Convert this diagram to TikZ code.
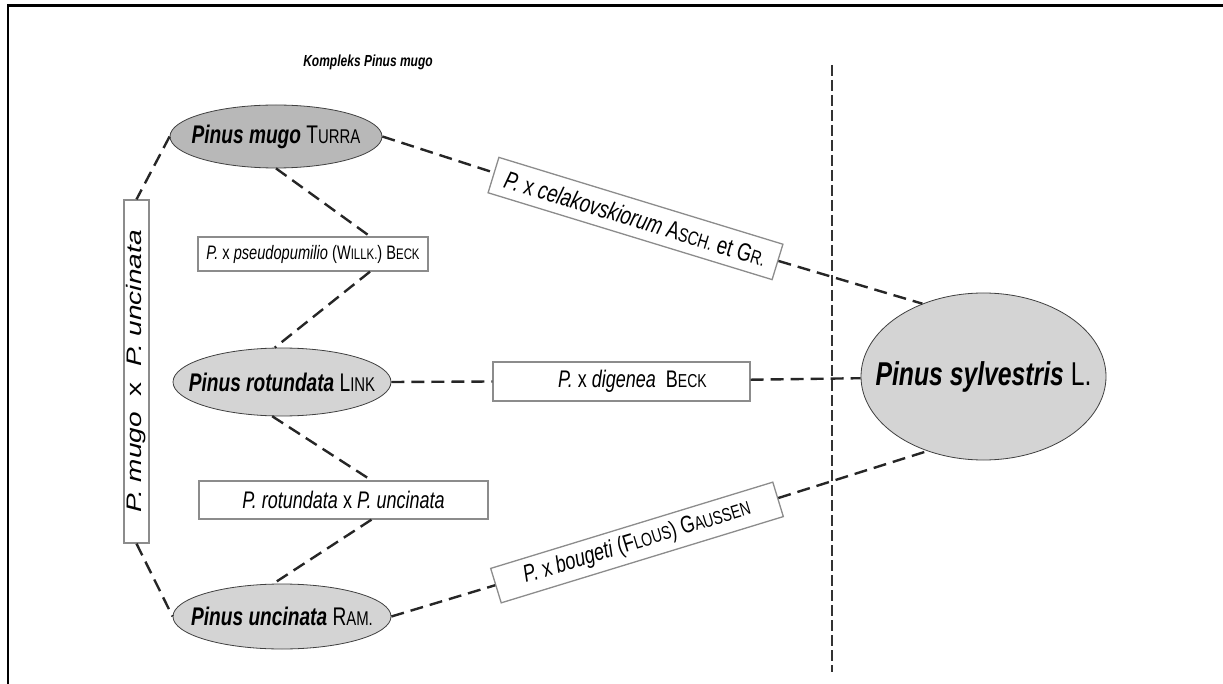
\documentclass[tikz,border=0pt]{standalone}
\usepackage{fontspec}
\setmainfont{Liberation Sans}[FakeStretch=0.75]
\newfontfamily\upfont{Liberation Sans}
\usetikzlibrary{shapes.geometric}

%% petites capitales
\newcommand{\smc}[1]{\scalebox{0.78}{#1}}
%% texte sans largeur (l'ellipse garde sa taille)
\newcommand{\nowidth}[1]{\makebox[0pt]{#1}}

\tikzset{
  taxon/.style={ellipse, draw=black!75, line width=0.8pt, inner sep=0pt,
    font=\fontsize{25.5}{28}\selectfont},
  hybrid/.style={rectangle, draw=black!45, line width=1.3pt, fill=white,
    inner sep=0pt, font=\fontsize{24}{28}\selectfont},
  link/.style={draw=black!85, line width=2.4pt, dash pattern=on 13pt off 7pt},
  sep/.style={draw=black!80, line width=1.6pt, dash pattern=on 11pt off 4pt}
}

\begin{document}
\begin{tikzpicture}[x=1pt,y=1pt]
\useasboundingbox (0,0) rectangle (1223,-684);

%% cadre
\draw[line width=2.5pt] (8,-684) -- (8,-5.5) -- (1223,-5.5);

%% titre
\node[font=\fontsize{16}{18}\selectfont\bfseries\itshape] (titre) at (368,-62) {Kompleks Pinus mugo};

%% separation
\draw[sep] (832,-65) -- (832,-672);

%% especes
\node[taxon, fill=black!28, minimum width=212pt, minimum height=63pt] (mugo) at (276,-136.5)
  {\nowidth{\textbf{\textit{Pinus mugo}} T\smc{URRA}}};
\node[taxon, fill=black!17, minimum width=218pt, minimum height=68pt] (rot) at (282,-382)
  {\nowidth{\textbf{\textit{Pinus rotundata}} L\smc{INK}}};
\node[taxon, fill=black!17, minimum width=218pt, minimum height=65pt] (unc) at (282,-616.5)
  {\nowidth{\textbf{\textit{Pinus uncinata}} R\smc{AM.}}};
\node[taxon, fill=black!17, minimum width=245pt, minimum height=167pt,
  font=\fontsize{33}{36}\selectfont] (sylv) at (983.5,-376.5)
  {\nowidth{\textbf{\textit{Pinus sylvestris}} L.}};

%% hybrides
\node[hybrid, minimum width=230pt, minimum height=34pt, font=\fontsize{19.5}{22}\selectfont] (pseudo) at (313,-254)
  {\textit{P.} x \textit{pseudopumilio} (W\smc{ILLK.}) B\smc{ECK}};
\node[hybrid, minimum width=289pt, minimum height=38pt] (rxu) at (343.5,-500)
  {\textit{P. rotundata} x \textit{P. uncinata}};
\node[hybrid, minimum width=257pt, minimum height=39pt] (dig) at (621.5,-381.5)
  {\nowidth{\hspace*{22pt}\textit{P.} x \textit{digenea}\ \ B\smc{ECK}}};
\node[hybrid, rotate=90, minimum width=343pt, minimum height=25pt,
  font=\upfont\fontsize{28}{30}\selectfont] (vbox) at (136.5,-371.5)
  {\scalebox{1}[0.75]{\textit{P. mugo}\ \ x\ \ \textit{P. uncinata}}};
\node[hybrid, rotate=-17, minimum width=297pt, minimum height=37pt, font=\fontsize{25}{28}\selectfont] (cela) at (635.5,-218.5)
  {\textit{P.} x \textit{celakovskiorum} A\smc{SCH.} et G\smc{R.}};
\node[hybrid, rotate=17, minimum width=295pt, minimum height=36pt] (boug) at (637,-542.5)
  {\textit{P.} x \textit{bougeti} (F\smc{LOUS}) G\smc{AUSSEN}};

%% liaisons
\draw[link] (mugo.west) -- (vbox.east);
\draw[link] (vbox.west) -- (unc.west);
\draw[link] (mugo.south) -- ([xshift=57pt]pseudo.north);
\draw[link] ([xshift=57pt]pseudo.south) -- (rot.102);
\draw[link] (rot.254) -- ([xshift=28pt]rxu.north);
\draw[link] ([xshift=28pt]rxu.south) -- (unc.105);
\draw[link] (rot.east) -- (dig.west);
\draw[link] (dig) -- (sylv);
\draw[link] (mugo.east) -- (cela);
\draw[link] (cela) -- (sylv.130);
\draw[link] (unc.east) -- (boug);
\draw[link] (boug) -- (sylv.233);

\end{tikzpicture}
\end{document}
